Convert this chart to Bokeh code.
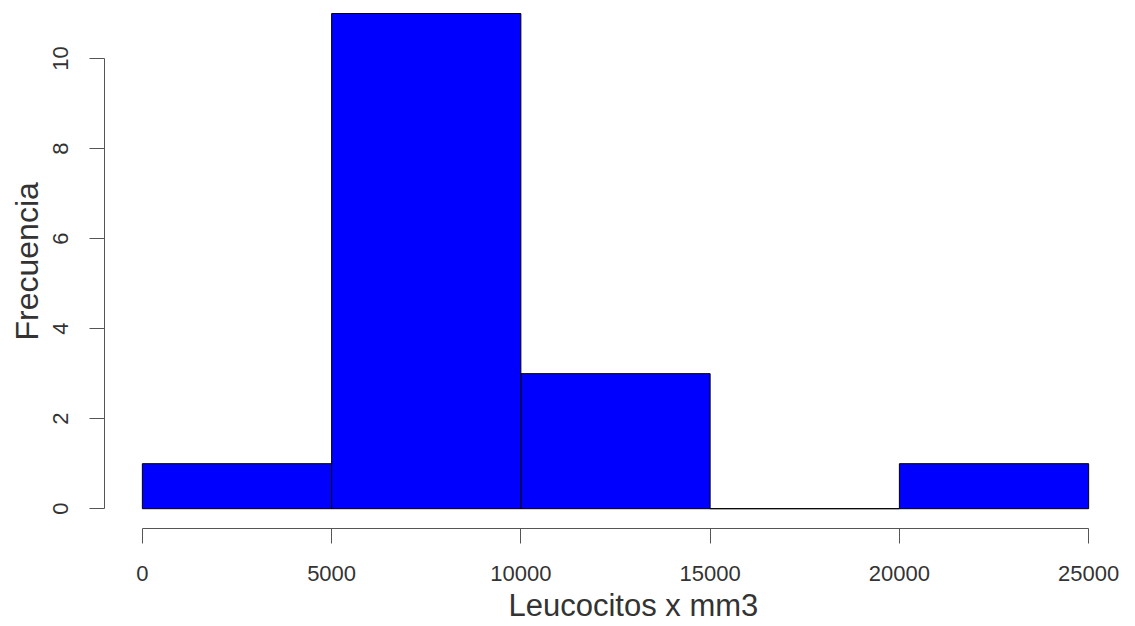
from bokeh.plotting import figure
from bokeh.models import Range1d, FixedTicker, Title
from bokeh.embed import file_html
from bokeh.resources import INLINE

# Data: histogram bins (Leucocitos x mm3) and frequencies
bin_edges = [0, 5000, 10000, 15000, 20000, 25000]
counts = [1, 11, 3, 0, 1]
x_ticks = [0, 5000, 10000, 15000, 20000, 25000]
y_ticks = [0, 2, 4, 6, 8, 10]
x_label = "Leucocitos x mm3"
y_label = "Frecuencia"

FONT = "Liberation Sans"
TXT = "#333333"
LINE = "#555555"

p = figure(width=1127, height=624, output_backend="svg", toolbar_location=None,
           x_range=Range1d(-1000, 26000), y_range=Range1d(-0.44, 11.29),
           min_border_left=104, min_border_right=1, min_border_top=0, min_border_bottom=96)
p.outline_line_color = None
p.grid.visible = False
p.background_fill_color = "white"
p.border_fill_color = "white"

p.quad(left=bin_edges[:-1], right=bin_edges[1:], bottom=0, top=counts,
       fill_color="#0000FF", line_color="black", line_width=1)

for ax, ticks, bnds in ((p.xaxis[0], x_ticks, (0, 25000)), (p.yaxis[0], y_ticks, (0, 10))):
    ax.ticker = FixedTicker(ticks=ticks)
    ax.bounds = bnds
    ax.axis_line_color = LINE
    ax.axis_line_width = 1
    ax.major_tick_line_color = LINE
    ax.major_tick_line_width = 1
    ax.major_tick_in = 0
    ax.major_tick_out = 15
    ax.minor_tick_line_color = None
    ax.major_label_text_font = FONT
    ax.major_label_text_font_size = "22px"
    ax.major_label_text_color = TXT

p.xaxis[0].major_label_standoff = 22
p.yaxis[0].major_label_standoff = 21
p.yaxis[0].major_label_orientation = "parallel"

tx = Title(text=x_label, align="left", offset=404, text_font=FONT, text_font_size="31px",
           text_font_style="normal", text_color=TXT, standoff=4)
p.add_layout(tx, "below")
ty = Title(text=y_label, align="left", offset=188, text_font=FONT, text_font_size="32px",
           text_font_style="normal", text_color=TXT, standoff=12)
p.add_layout(ty, "left")

open("out.html", "w").write(file_html(p, INLINE))
